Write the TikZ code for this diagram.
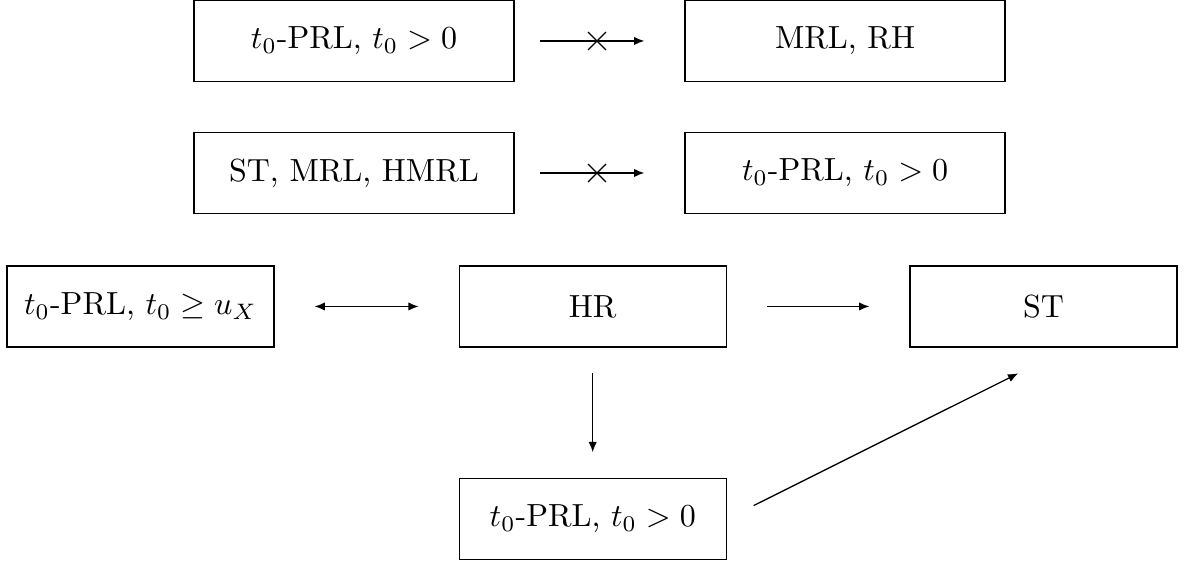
\documentclass[tikz,border=0pt]{standalone}
\usepackage{amsmath}
\usetikzlibrary{calc,arrows.meta,shapes.misc}

\tikzset{tp/.tip={Latex[length=3.2pt,width=2.6pt]}}

\begin{document}
\begin{tikzpicture}[
  box/.style={draw, minimum width=3.515cm, minimum height=0.89cm, inner sep=0pt},
  sbox/.style={box, minimum width=2.932cm},
  imp/.style={-tp, shorten <=12.5pt, shorten >=12.5pt},
  nimp/.style={imp, shorten <=8pt},
  xmark/.style={cross out, draw, -, shorten <=0pt, shorten >=0pt,
    minimum size=5.2pt, inner sep=0pt},
]
  \useasboundingbox (0,0) rectangle (13.004,6.205);

  % 上两行：不成立的蕴含
  \node[box] (A1) at (3.888,5.755) {$t_0$-PRL, $t_0>0$};
  \node[box] (B1) at (9.281,5.755) {MRL, RH};
  \node[box] (A2) at (3.888,4.305) {ST, MRL, HMRL};
  \node[box] (B2) at (9.281,4.305) {$t_0$-PRL, $t_0>0$};

  % 第三行与底部
  \node[sbox] (P)  at (1.543,2.839)  {$t_0$-PRL, $t_0\geq u_X$};
  \node[sbox] (HR) at (6.51,2.839)   {HR};
  \node[sbox] (ST) at (11.461,2.839) {ST};
  \node[sbox] (Q)  at (6.51,0.505)   {$t_0$-PRL, $t_0>0$};

  % 斜箭头终点：ST 下方偏右
  \coordinate (E) at ($(ST.south)+(8.2pt,0)$);

  \draw[nimp] (A1) -- node[pos=0.485, xmark] {} (B1);
  \draw[nimp] (A2) -- node[pos=0.485, xmark] {} (B2);
  \draw[imp, tp-tp] (P) -- (HR);
  \draw[imp] (HR) -- (ST);
  \draw[imp, shorten <=8pt, shorten >=8pt] (HR) -- (Q);
  \draw[imp, shorten <=9.4pt, shorten >=18pt] (Q.east) -- (E);
\end{tikzpicture}
\end{document}
